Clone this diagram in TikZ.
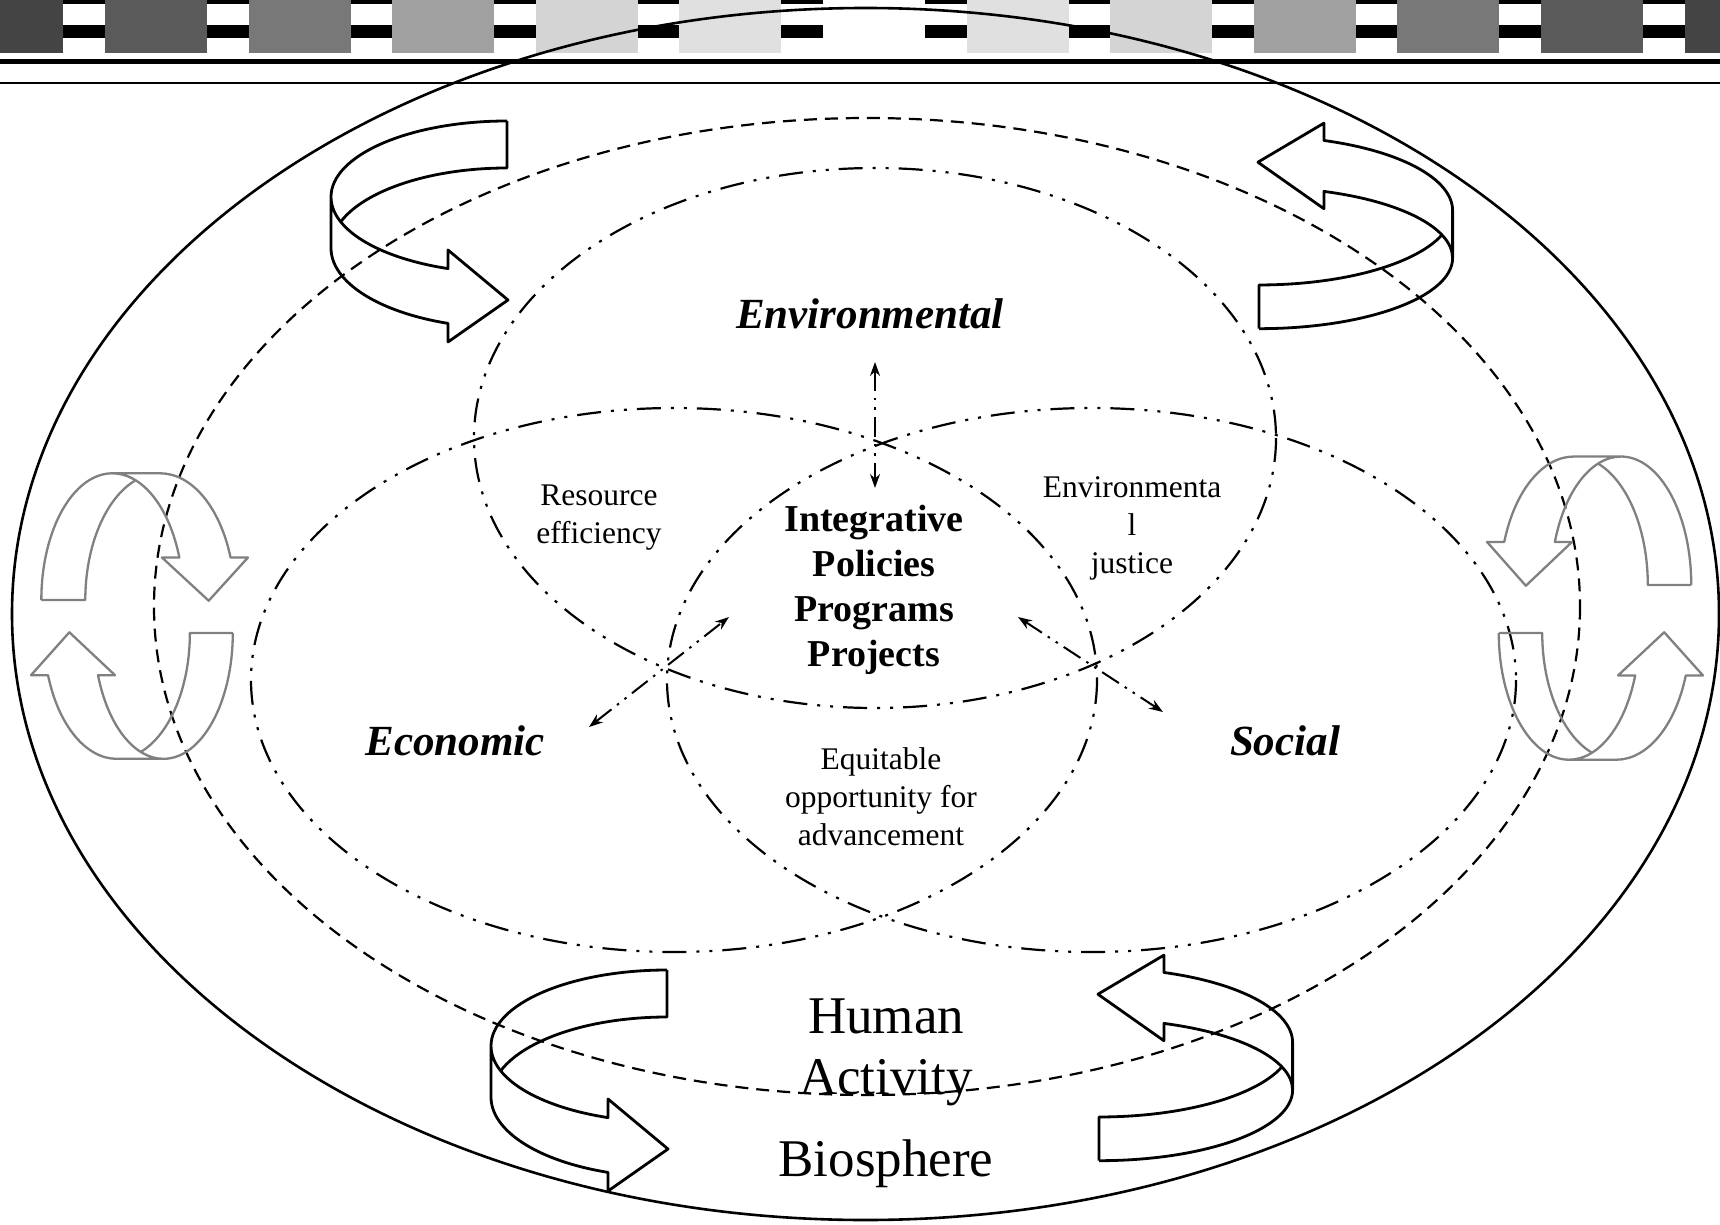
\documentclass[tikz,border=0pt]{standalone}
\usepackage{fontspec}
\setmainfont{Liberation Serif}
\usetikzlibrary{arrows.meta}
\definecolor{bar0}{HTML}{FFFFFF}
\definecolor{bar1}{HTML}{E0E0E0}
\definecolor{bar2}{HTML}{D4D4D4}
\definecolor{bar3}{HTML}{A0A0A0}
\definecolor{bar4}{HTML}{787878}
\definecolor{bar5}{HTML}{5A5A5A}
\definecolor{bar6}{HTML}{444444}
\definecolor{ag}{HTML}{808080}
\tikzset{
  ribbon/.pic={
    \draw[line join=round] (0,-76) arc[start angle=-90,end angle=-180,x radius=176,y radius=76]
       -- (-176,51) arc[start angle=180,end angle=109.6,x radius=176,y radius=80]
       -- (-59,145) -- (1,103) -- (-59,53) -- (-59,71.6)
       arc[start angle=109.6,end angle=180,x radius=176,y radius=76];
    \draw[line join=round] (0,-76) -- (0,-29)
       arc[start angle=-90,end angle=-160.9,x radius=176,y radius=80];
  },
  blk/.style={line width=2.8pt, color=black},
  gry/.style={line width=2.3pt, color=ag},
  bio/.style={line width=2.6pt},
  human/.style={line width=2.2pt, dash pattern=on 13pt off 8pt},
  ddot/.style={line width=2.2pt, dash pattern=on 24pt off 10pt on 3pt off 10pt on 3pt off 10pt},
  dda/.style={line width=2pt, dash pattern=on 20pt off 7pt on 2.5pt off 7pt on 2.5pt off 7pt,
    {Stealth[length=14pt,width=10pt]}-{Stealth[length=14pt,width=10pt]}},
  dim/.style={font=\fontsize{43}{50}\selectfont\bfseries\itshape, anchor=base, inner sep=0pt},
  cen/.style={font=\fontsize{38}{45}\selectfont\bfseries, align=center, anchor=base, inner sep=0pt},
  lab/.style={font=\fontsize{31.5}{38}\selectfont, align=center, anchor=base, inner sep=0pt},
  big/.style={font=\fontsize{53}{61}\selectfont, align=center, anchor=base, inner sep=0pt},
}
\begin{document}
\begin{tikzpicture}[x=1pt,y=-1pt]
\useasboundingbox (0,0) rectangle (1720,1225);
\fill[white] (0,0) rectangle (1720,1225);
% top bar
\fill[black] (0,0) rectangle (1720,4);
\fill[black] (0,25) rectangle (1720,38);
\foreach \k in {-6,...,6}{
  \pgfmathtruncatemacro\kk{abs(\k)}
  \fill[bar\kk] ({874+143.6*\k-51},0) rectangle ({874+143.6*\k+51},53);
}
\fill[black] (0,59) rectangle (1720,64);
\fill[black] (0,82) rectangle (1720,84.5);
% ellipses
\draw[bio] (865.5,614) ellipse[x radius=853.5, y radius=606];
\draw[human] (867,606.5) ellipse[x radius=713, y radius=488.5];
\draw[ddot] (875,438) ellipse[x radius=401, y radius=270];
\draw[ddot] (674,680) ellipse[x radius=423, y radius=272];
\draw[ddot] (1091.5,680) ellipse[x radius=424.5, y radius=272];
% ribbon arrows
\pic[blk] at (507,197) {ribbon};
\pic[blk] at (667,1046) {ribbon};
\pic[blk, xscale=-1.1, yscale=-0.93] at (1259,258) {ribbon};
\pic[blk, xscale=-1.1, yscale=-0.93] at (1099,1090) {ribbon};
\pic[gry, cm={0,-0.72,-0.935,0,(112.4,600)}] at (0,0) {ribbon};
\pic[gry, cm={0,0.715,0.913,0,(163.4,633)}] at (0,0) {ribbon};
\pic[gry, cm={0,-0.73,0.924,0,(1621,585)}] at (0,0) {ribbon};
\pic[gry, cm={0,0.72,-0.924,0,(1569,633)}] at (0,0) {ribbon};
% small double arrows
\coordinate (vU) at (875,362);
\coordinate (vD) at (875,488);
\coordinate (lA) at (589,727);
\coordinate (lB) at (729,617);
\coordinate (rA) at (1018,617);
\coordinate (rB) at (1163,712);
\draw[dda] (vU) -- (vD);
\draw[dda] (lA) -- (lB);
\draw[dda] (rA) -- (rB);
% texts (multi-line nodes: base = baseline of last line)
\node[dim] (env) at (870,328) {Environmental};
\node[dim] (eco) at (455,755) {Economic};
\node[dim] (soc) at (1285,755) {Social};
\node[cen] (core) at (874,666) {Integrative\\Policies\\Programs\\Projects};
\node[lab] (res) at (599,543) {Resource\\efficiency};
\node[lab] (just) at (1132,573) {Environmenta\\l\\justice};
\node[lab] (equ) at (881,845) {Equitable\\opportunity for\\advancement};
\node[big] (hum) at (886,1094) {Human\\Activity};
\node[big] (bios) at (886,1176) {Biosphere};
\end{tikzpicture}
\end{document}
